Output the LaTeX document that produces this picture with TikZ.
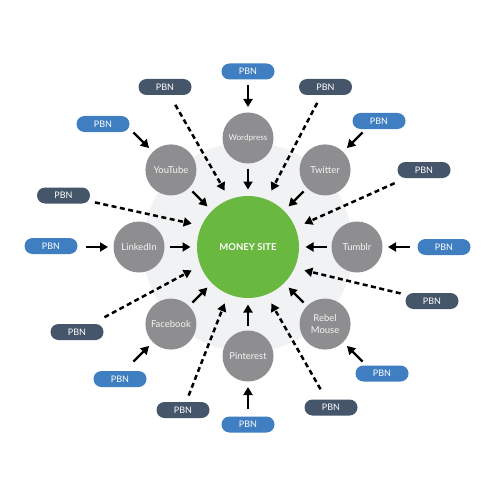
\documentclass[tikz,border=0pt]{standalone}
\usepackage{fontspec}
\setmainfont{Lato}
\usetikzlibrary{calc,arrows.meta}
\definecolor{msgreen}{HTML}{69B840}
\definecolor{pblue}{HTML}{3F7FC1}
\definecolor{pdark}{HTML}{46566A}
\definecolor{satgray}{HTML}{8E8E90}
\definecolor{discgray}{HTML}{F1F2F3}
\definecolor{sattext}{HTML}{F4F4F4}
\begin{document}
\begin{tikzpicture}[x=1pt,y=-1pt,
  sat/.style={circle,fill=satgray,minimum size=51pt,inner sep=0pt,text=sattext,
    font=\fontsize{9.5}{11.5}\selectfont,align=center},
  pill/.style={rounded corners=8pt,minimum width=53pt,minimum height=16pt,inner sep=0pt,
    text=white,font=\fontsize{9}{10}\selectfont},
  bpill/.style={pill,fill=pblue},
  dpill/.style={pill,fill=pdark},
  solidarrow/.style={line width=2.2pt,-{Triangle[length=8pt,width=9pt]}},
  dasharrow/.style={line width=2.5pt,dash pattern=on 5pt off 3.5pt,-{Triangle[length=8pt,width=9pt]}},
]
\useasboundingbox (0,0) rectangle (500,500);
\fill[white] (0,0) rectangle (500,500);

% background disc and money site
\node[circle,fill=discgray,minimum size=210pt,inner sep=0pt] (disc) at (248,247) {};
\node[circle,fill=msgreen,minimum size=102pt,inner sep=0pt,text=white,
  font=\bfseries\fontsize{9.5}{11}\selectfont] (ms) at (248,247) {MONEY SITE};

% satellites
\node[sat,font=\fontsize{8.2}{10}\selectfont] (wp) at ($(ms)+(90:109pt)$) {Wordpress};
\node[sat] (tw) at ($(ms)+(45:109pt)$) {Twitter};
\node[sat] (tu) at ($(ms)+(0:109pt)$) {Tumblr};
\node[sat] (rm) at ($(ms)+(-45:109pt)$) {Rebel\\Mouse};
\node[sat] (pi) at ($(ms)+(-90:109pt)$) {Pinterest};
\node[sat] (fb) at ($(ms)+(-135:109pt)$) {Facebook};
\node[sat] (li) at ($(ms)+(180:109pt)$) {LinkedIn};
\node[sat] (yt) at ($(ms)+(135:109pt)$) {YouTube};

% blue PBN pills
\node[bpill] (bwp) at (248,71.5) {PBN};
\node[bpill] (byt) at (103,124) {PBN};
\node[bpill] (btw) at (379,121) {PBN};
\node[bpill] (bli) at (51,246) {PBN};
\node[bpill] (btu) at (444,247) {PBN};
\node[bpill] (bfb) at (120,379) {PBN};
\node[bpill] (brm) at (382,373.5) {PBN};
\node[bpill] (bpi) at (248,424.5) {PBN};

% dark PBN pills
\node[dpill] (d1) at (165,87) {PBN};
\node[dpill] (d2) at (325.5,87) {PBN};
\node[dpill] (d3) at (424,170) {PBN};
\node[dpill] (d4) at (63.5,195.5) {PBN};
\node[dpill] (d5) at (432,301) {PBN};
\node[dpill] (d6) at (77,332) {PBN};
\node[dpill] (d7) at (183,410) {PBN};
\node[dpill] (d8) at (331,407.5) {PBN};

% dashed arrow tips on the money site
\coordinate (t1) at ($(ms)+(112.5:61pt)$);
\coordinate (t2) at ($(ms)+(67.5:61pt)$);
\coordinate (t3) at ($(ms)+(22.5:61pt)$);
\coordinate (t4) at ($(ms)+(157.5:61pt)$);
\coordinate (t5) at ($(ms)+(-22.5:61pt)$);
\coordinate (t6) at ($(ms)+(-157.5:61pt)$);
\coordinate (t7) at ($(ms)+(-112.5:61pt)$);
\coordinate (t8) at ($(ms)+(-67.5:61pt)$);

% dashed arrows
\foreach \d/\t in {d1/t1,d2/t2,d3/t3,d4/t4,d5/t5,d6/t6,d7/t7,d8/t8}
  \draw[dasharrow] ($(\t)!99pt!(\d)$) -- (\t);

% solid arrows: PBN -> satellite and satellite -> money site
\foreach \s in {wp,tw,tu,rm,pi,fb,li,yt}{
  \draw[solidarrow] ($(\s)!-53pt!(ms)$) -- ($(\s)!-31pt!(ms)$);
  \draw[solidarrow] ($(\s)!30.5pt!(ms)$) -- ($(\s)!51.5pt!(ms)$);
}
\end{tikzpicture}
\end{document}
